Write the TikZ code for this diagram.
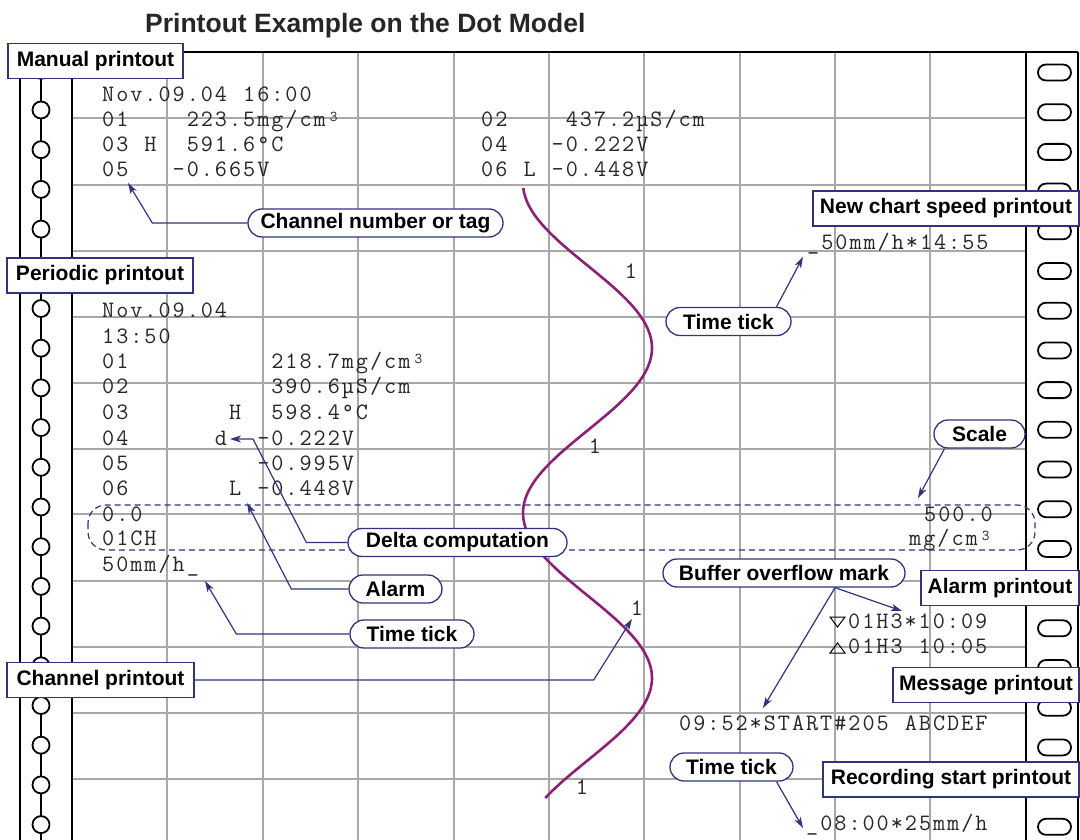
\documentclass[tikz,border=0pt]{standalone}
\usepackage{fontspec}
\setmainfont{Liberation Sans}
\usetikzlibrary{arrows.meta,calc}
\definecolor{navy}{RGB}{48,52,125}
\definecolor{plum}{RGB}{140,32,120}
\definecolor{gridc}{RGB}{168,168,168}
\newcommand\mono[1]{\monoloop#1\monoquark}
\def\monoquark{\monoquark}
\def\monoloop#1{\ifx\monoquark#1\else\makebox[14.1pt][c]{#1}\expandafter\monoloop\fi}
\newcommand\cubic{\raisebox{5pt}{\fontsize{15}{15}\selectfont 3}}
\tikzset{
  gridline/.style={gridc, line width=1.5pt},
  frameline/.style={black, line width=2pt},
  rlabel/.style={draw=navy, line width=1.3pt, fill=white, text=black,
    font=\fontsize{21}{24}\selectfont\bfseries, inner sep=0pt, minimum height=35pt},
  plabel/.style={rlabel, rounded corners=14pt, minimum height=28pt},
  mono/.style={inner sep=0pt, anchor=base west, text=black!85,
    font=\fontsize{23.5}{25}\selectfont\ttfamily},
  monoc/.style={mono, anchor=base},
  conn/.style={navy, line width=1.2pt, -{Stealth[length=11pt,width=7pt,inset=3pt]}},
}
\begin{document}
\begin{tikzpicture}[x=1pt,y=-1pt]
\useasboundingbox (0,0) rectangle (1080,840);
% grid
\foreach \x in {167,263,358,454,549,644,740,835,930}
  \draw[gridline] (\x,52) -- (\x,840);
\foreach \y in {118,185,251,317,383,449,514,581,647,713,779}
  \draw[gridline] (72,\y) -- (1026,\y);
% frame and strips
\draw[frameline] (20,52) -- (1078,52);
\draw[frameline] (20,52) -- (20,840);
\draw[frameline] (72,52) -- (72,840);
\draw[frameline] (1026,52) -- (1026,840);
\draw[frameline] (1078,52) -- (1078,840);
\draw[black, line width=1.5pt] (41,52) -- (41,840);
\foreach \k in {0,...,19}
  \draw[black, line width=1.8pt, fill=white] (41,{70.3+39.7*\k}) circle (8.5pt);
\foreach \k in {0,...,19}
  \draw[black, line width=1.8pt, fill=white, rounded corners=8pt]
    (1038,{64.5+39.7*\k}) rectangle ++(33,16);
% title
\node[anchor=base west, inner sep=0pt, text=black!85,
  font=\fontsize{26.5}{30}\selectfont\bfseries] (title) at (145,32.5)
  {Printout Example on the Dot Model};
% curve
\draw[plum, line width=2.6pt] plot[domain=188:798, samples=150, smooth]
  ({587.5-64.5*cos((\x-183)*1.090909)}, \x);
% dashed scale box
\draw[navy, line width=1.2pt, dash pattern=on 6pt off 4pt, rounded corners=18pt]
  (88,505) rectangle (1035,550);
% manual printout text
\node[mono] (m1) at (101,102) {\mono{Nov.09.04~16:00}};
\node[mono] (m2) at (101,127) {\mono{01~~~~223.5mg/cm\cubic}};
\node[mono] (m3) at (101,152) {\mono{03~H~~591.6°C}};
\node[mono] (m4) at (101,177) {\mono{05~~~-0.665V}};
\node[mono] (m5) at (480,127) {\mono{02~~~~437.2µS/cm}};
\node[mono] (m6) at (480,152) {\mono{04~~~-0.222V}};
\node[mono] (m7) at (480,177) {\mono{06~L~-0.448V}};
% periodic printout text
\node[mono] (q1) at (101,317) {\mono{Nov.09.04}};
\node[mono] (q2) at (101,343) {\mono{13:50}};
\node[mono] (q3) at (101,368) {\mono{01~~~~~~~~~~218.7mg/cm\cubic}};
\node[mono] (q4) at (101,393) {\mono{02~~~~~~~~~~390.6µS/cm}};
\node[mono] (q5) at (101,419) {\mono{03~~~~~~~H~~598.4°C}};
\node[mono] (q6) at (101,445) {\mono{04~~~~~~d~~-0.222V}};
\node[mono] (q7) at (101,470) {\mono{05~~~~~~~~~-0.995V}};
\node[mono] (q8) at (101,495) {\mono{06~~~~~~~L~-0.448V}};
\node[mono] (q9) at (101,521) {\mono{0.0}};
\node[mono] (q10) at (101,545) {\mono{01CH}};
\node[mono] (q11) at (101,571) {\mono{50mm/h\_}};
\node[mono] (q12) at (923,521) {\mono{500.0}};
\node[mono] (q13) at (908,545) {\mono{mg/cm\cubic}};
% other printouts
\node[mono] (r1) at (806,250) {\mono{\_50mm/h*14:55}};
\node[mono] (r2) at (847,628) {\mono{01H3*10:09}};
\node[mono] (r3) at (847,653) {\mono{01H3~10:05}};
\node[mono] (r4) at (678,730) {\mono{09:52*START\#205~ABCDEF}};
\node[mono] (r5) at (805,830) {\mono{\_08:00*25mm/h}};
\draw[black, line width=1pt] (830,617) -- (845,617) -- (837.5,627) -- cycle;
\draw[black, line width=1pt] (830,653) -- (845,653) -- (837.5,643) -- cycle;
% digits on the curve
\node[monoc] (d1) at (631,278) {1};
\node[monoc] (d2) at (595,453) {1};
\node[monoc] (d3) at (637,615) {1};
\node[monoc] (d4) at (582,794) {1};
% rectangular labels
\node[rlabel, minimum width=175pt] (man) at (95.5,61) {Manual printout};
\node[rlabel, minimum width=186pt] (per) at (100,275.5) {Periodic printout};
\node[rlabel, minimum width=187pt] (chp) at (100.5,680) {Channel printout};
\node[rlabel, minimum width=266pt] (ncs) at (946,208.5) {New chart speed printout};
\node[rlabel, minimum width=158pt] (alp) at (1000,588) {Alarm printout};
\node[rlabel, minimum width=186pt] (msg) at (986,685) {Message printout};
\node[rlabel, minimum width=256pt] (rec) at (951,779.5) {Recording start printout};
% pill labels
\node[plabel, minimum width=255pt] (cnt) at (375.5,223) {Channel number or tag};
\node[plabel, minimum width=125pt] (tt1) at (728.5,321.5) {Time tick};
\node[plabel, minimum width=91pt] (sc) at (979.5,434) {Scale};
\node[plabel, minimum width=219pt] (dc) at (457.5,542.5) {Delta computation};
\node[plabel, minimum width=93pt] (al) at (395.5,589) {Alarm};
\node[plabel, minimum width=124pt] (tt2) at (412,634) {Time tick};
\node[plabel, minimum width=242pt] (bom) at (784,573) {Buffer overflow mark};
\node[plabel, minimum width=123pt] (tt3) at (731.5,767) {Time tick};
% connectors
\coordinate (p05) at (128,183);
\coordinate (p1455) at (803,257);
\coordinate (pscale) at (918,498);
\coordinate (pd) at (230,439);
\coordinate (pL) at (247,503);
\coordinate (ph) at (205,581);
\coordinate (pone) at (632,619);
\coordinate (bo) at ([xshift=51pt]bom.south);
\coordinate (pstar1) at (902,611);
\coordinate (pstar2) at (763,708);
\coordinate (p0800) at (803,828);
\draw[conn] (cnt.west) -- ++(-95,0) -- (p05);
\draw[conn] ([xshift=48pt]tt1.north) -- (p1455);
\draw[conn] ([xshift=-35pt]sc.south) -- (pscale);
\draw[conn] (dc.west) -- ++(-41,0) -- (253,439) -- (pd);
\draw[conn] (al.west) -- ++(-57,0) -- (pL);
\draw[conn] (tt2.west) -- ++(-113,0) -- (ph);
\draw[conn] (chp.east) -- ++(399,0) -- (pone);
\draw[conn] (bo) -- (pstar1);
\draw[conn] (bo) -- (pstar2);
\draw[conn] ([xshift=45pt]tt3.south) -- (p0800);
\end{tikzpicture}
\end{document}
